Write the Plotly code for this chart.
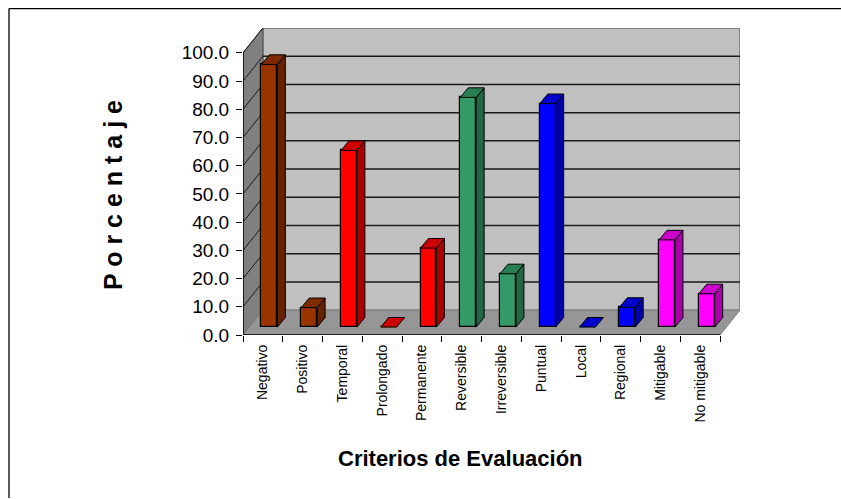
import plotly.graph_objects as go

categories = ["Negativo", "Positivo", "Temporal", "Prolongado", "Permanente", "Reversible",
              "Irreversible", "Puntual", "Local", "Regional", "Mitigable", "No mitigable"]
values = [93.1, 6.9, 62.6, 0.0, 28.0, 81.4, 18.9, 79.2, 0.0, 7.0, 30.9, 11.8]
front_colors = ["#993300", "#993300", "#FF0000", "#FF0000", "#FF0000", "#339966",
                "#339966", "#0000FF", "#0000FF", "#0000FF", "#FF00FF", "#FF00FF"]
side_colors = ["#662200", "#662200", "#AA0000", "#AA0000", "#AA0000", "#226644",
               "#226644", "#0000AA", "#0000AA", "#0000AA", "#AA00AA", "#AA00AA"]
top_colors = ["#7F2A00", "#7F2A00", "#CC0000", "#CC0000", "#CC0000", "#297F54",
              "#297F54", "#0000CC", "#0000CC", "#0000CC", "#CC00CC", "#CC00CC"]
y_ticks = list(range(0, 101, 10))

# oblique projection, in axis units
WALL_DX, WALL_DY = 0.5, 8.8
BAR_X0, BAR_Y0 = 0.165, 2.8
BAR_W = 0.40
BAR_DX, BAR_DY = 0.2, 3.4
XL, XR, YMAX = -0.5, 11.5, 100

L, R, T, B = 243, 740, 27.5, 335.5
W, H = 841, 499

fig = go.Figure()

def poly(xs, ys, fill, line="#555555", width=1):
    p = "M" + " L".join(f"{x} {y}" for x, y in zip(xs, ys)) + " Z"
    return dict(type="path", path=p, xref="x", yref="y", fillcolor=fill, layer="below",
                line=dict(color=line, width=width))

shapes = [
    poly([XL + WALL_DX, XR + WALL_DX, XR + WALL_DX, XL + WALL_DX],
         [WALL_DY, WALL_DY, YMAX + WALL_DY, YMAX + WALL_DY], "#C0C0C0", "#707070", 1.5),
    poly([XL, XL + WALL_DX, XL + WALL_DX, XL],
         [0, WALL_DY, YMAX + WALL_DY, YMAX], "#808080", "#505050", 1),
    poly([XL, XR, XR + WALL_DX, XL + WALL_DX],
         [0, 0, WALL_DY, WALL_DY], "#969696", "#808080", 1),
]
for v in y_ticks[1:-1]:
    shapes.append(dict(type="line", xref="x", yref="y", layer="below",
                       x0=XL + WALL_DX, x1=XR + WALL_DX, y0=v + WALL_DY, y1=v + WALL_DY,
                       line=dict(color="#1a1a1a", width=1.5)))
for v in y_ticks[1:]:
    shapes.append(dict(type="line", xref="x", yref="y", layer="below",
                       x0=XL, x1=XL + WALL_DX, y0=v, y1=v + WALL_DY,
                       line=dict(color="#1a1a1a", width=1)))
# outer frame (paper coordinates from pixels)
px = lambda x: (x - L) / (R - L)
py = lambda y: (B - y) / (B - T)
shapes.append(dict(type="line", xref="paper", yref="paper", x0=px(9), x1=px(9), y0=py(8), y1=py(499),
                   line=dict(color="black", width=1.3)))
shapes.append(dict(type="line", xref="paper", yref="paper", x0=px(9), x1=px(841), y0=py(8), y1=py(8),
                   line=dict(color="black", width=1.3)))

positions = [i + BAR_X0 for i in range(len(values))]
fig.add_trace(go.Bar(x=positions, y=values, base=BAR_Y0, width=BAR_W,
                     marker=dict(color=front_colors, line=dict(color="black", width=1.2)),
                     hoverinfo="skip", showlegend=False))

for i, v in enumerate(values):
    x0 = positions[i] - BAR_W / 2
    x1 = positions[i] + BAR_W / 2
    y0 = BAR_Y0
    y1 = BAR_Y0 + v
    if v > 0:
        fig.add_trace(go.Scatter(
            x=[x1, x1 + BAR_DX, x1 + BAR_DX, x1, x1], y=[y0, y0 + BAR_DY, y1 + BAR_DY, y1, y0],
            mode="lines", fill="toself", fillcolor=side_colors[i],
            line=dict(color="black", width=1), hoverinfo="skip", showlegend=False))
    fig.add_trace(go.Scatter(
        x=[x0, x0 + BAR_DX, x1 + BAR_DX, x1, x0], y=[y1, y1 + BAR_DY, y1 + BAR_DY, y1, y1],
        mode="lines", fill="toself", fillcolor=top_colors[i],
        line=dict(color="black", width=1), hoverinfo="skip", showlegend=False))

# axis lines
fig.add_trace(go.Scatter(x=[XL, XL, XR], y=[YMAX, 0, 0], mode="lines", cliponaxis=False,
                         line=dict(color="black", width=1.5), hoverinfo="skip", showlegend=False))

fig.update_layout(
    width=W, height=H, autosize=False, paper_bgcolor="white", plot_bgcolor="rgba(0,0,0,0)",
    margin=dict(l=L, r=W - R, t=T, b=H - B, pad=0),
    shapes=shapes,
    bargap=0,
    font=dict(family="Liberation Sans, Arial, sans-serif", color="black"),
    xaxis=dict(range=[XL, XR + WALL_DX], tickmode="array", tickvals=list(range(len(categories))),
               ticktext=categories, tickangle=-90, tickfont=dict(size=14), ticks="", showgrid=False,
               zeroline=False, showline=False, ticklabelstandoff=6,
               minor=dict(tickmode="array", tickvals=[XL + i for i in range(13)], ticks="outside",
                          ticklen=6, tickcolor="black", tickwidth=1.2, showgrid=False)),
    yaxis=dict(range=[0, YMAX + WALL_DY], tickmode="array", tickvals=y_ticks, tickformat=".1f",
               tickfont=dict(size=19), ticks="outside", ticklen=6, tickcolor="black", tickwidth=1.2,
               ticklabelstandoff=3, showgrid=False, zeroline=False, showline=False),
    annotations=[
        dict(text="<b>P o r c e n t a j e</b>", xref="paper", yref="paper", x=px(113), y=py(195),
             textangle=-90, showarrow=False, font=dict(size=25), xanchor="center", yanchor="middle"),
        dict(text="<b>Criterios de Evaluación</b>", xref="paper", yref="paper", x=px(460), y=py(459),
             showarrow=False, font=dict(size=22), xanchor="center", yanchor="middle"),
    ],
)

fig.write_html("out.html", config={"displayModeBar": False},
               post_script="document.body.style.margin='0';document.body.style.overflow='hidden';")
